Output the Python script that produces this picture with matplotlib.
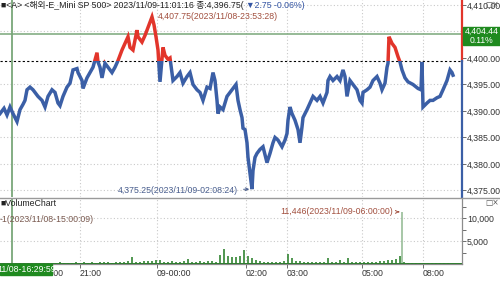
import numpy as np
import matplotlib
matplotlib.use('Agg')
import matplotlib.pyplot as plt
from matplotlib.patches import Rectangle
from matplotlib.lines import Line2D

plt.rcParams['font.family'] = ['Liberation Sans', 'Noto Sans CJK KR', 'DejaVu Sans']

# bar index (chart position) and price
bar_x = [0, 4, 7, 10, 13, 17, 20, 23, 25, 27,
         30, 33, 35, 38, 42, 45, 48, 52, 55, 58,
         60, 63, 67, 70, 73, 77, 78, 82, 83, 87,
         90, 93, 97, 98, 100, 102, 105, 108, 112, 115,
         118, 122, 125, 128, 130, 133, 137, 138, 142, 145,
         148, 152, 154, 156, 158, 160, 163, 165, 168, 170,
         173, 177, 180, 183, 187, 190, 193, 197, 200, 203,
         207, 210, 213, 215, 217, 218, 220, 223, 227, 230,
         233, 236, 238, 240, 242, 243, 245, 247, 248, 250,
         252, 253, 255, 257, 260, 263, 267, 270, 273, 275,
         278, 282, 285, 287, 288, 290, 292, 295, 298, 300,
         302, 303, 307, 310, 313, 317, 320, 323, 327, 328,
         330, 333, 337, 340, 343, 345, 347, 350, 353, 357,
         360, 362, 363, 367, 370, 373, 377, 380, 382, 385,
         387, 388, 389, 392, 395, 398, 400, 402, 405, 408,
         413, 418, 421, 422, 423, 427, 430, 433, 437, 440,
         443, 447, 450, 452, 453]
price = [4389.50, 4390.50, 4389.25, 4390.75, 4389.50, 4388.00, 4390.25, 4391.25, 4392.00, 4394.00,
         4394.50, 4394.00, 4393.50, 4392.75, 4392.00, 4390.75, 4392.75, 4394.00, 4393.50, 4391.50,
         4391.00, 4392.75, 4394.50, 4395.25, 4397.75, 4398.00, 4397.25, 4395.75, 4394.25, 4396.25,
         4397.25, 4398.25, 4401.00, 4399.25, 4398.25, 4396.25, 4399.00, 4398.25, 4397.25, 4398.25,
         4399.50, 4401.50, 4402.75, 4404.00, 4402.00, 4401.50, 4405.25, 4404.00, 4403.00, 4404.25,
         4405.75, 4407.75, 4406.25, 4404.00, 4401.50, 4395.50, 4402.00, 4400.50, 4399.75, 4400.00,
         4395.75, 4396.50, 4397.25, 4395.25, 4396.50, 4397.25, 4395.00, 4394.00, 4393.50, 4392.00,
         4394.50, 4394.25, 4397.25, 4395.75, 4392.00, 4389.50, 4390.75, 4390.25, 4392.75, 4393.50,
         4394.25, 4395.00, 4392.00, 4390.25, 4388.75, 4386.75, 4386.50, 4384.00, 4381.25, 4378.25,
         4375.25, 4378.75, 4381.25, 4382.00, 4382.75, 4383.25, 4380.25, 4382.00, 4384.00, 4385.00,
         4384.50, 4383.25, 4384.50, 4385.75, 4388.25, 4390.75, 4389.50, 4388.25, 4386.50, 4384.00,
         4387.00, 4388.75, 4390.25, 4391.50, 4392.75, 4392.00, 4392.75, 4391.50, 4393.50, 4395.75,
         4396.50, 4395.75, 4396.50, 4395.75, 4397.75, 4396.50, 4392.75, 4395.75, 4395.00, 4394.00,
         4392.00, 4391.50, 4393.50, 4394.00, 4394.50, 4395.75, 4396.50, 4395.25, 4394.00, 4395.25,
         4398.25, 4399.00, 4404.00, 4402.75, 4402.00, 4400.25, 4399.25, 4397.75, 4396.25, 4395.50,
         4395.00, 4394.25, 4394.00, 4399.25, 4390.75, 4391.50, 4392.00, 4392.00, 4392.50, 4392.75,
         4394.00, 4395.75, 4397.75, 4397.25, 4396.75]
prev_close = 4399.50
cursor_bar = 12
cursor_price = 4404.44

vol_x = list(range(0, 404, 4)) + [402] + list(range(404, 456, 4))
volume = [1, 150, 200, 120, 250, 180, 200, 300, 150, 220,
          260, 180, 300, 250, 200, 350, 280, 300, 250, 400,
          300, 350, 280, 450, 300, 380, 350, 420, 300, 500,
          450, 400, 600, 1600, 500, 450, 600, 700, 550, 900,
          800, 500, 450, 600, 400, 500, 600, 1100, 450, 500,
          700, 400, 550, 600, 450, 2000, 3200, 1800, 1600, 1500,
          1700, 3100, 1700, 1300, 900, 600, 400, 450, 500, 350,
          400, 600, 2300, 1300, 700, 700, 500, 450, 400, 500,
          350, 450, 1300, 500, 400, 900, 500, 1300, 400, 350,
          450, 500, 400, 450, 500, 600, 700, 800, 900, 1000,
          1800, 11446, 400, 250, 200, 150, 200, 150, 120, 180, 150,
          120, 150, 130, 100]

time_ticks = [41, 80, 157, 246, 287, 362, 423]
time_labels = ['15:00', '21:00', '09-00:00', '02:00', '03:00', '05:00', '08:00']
price_ticks = [4375, 4380, 4385, 4390, 4395, 4400, 4405, 4410]
vol_ticks = [5000, 10000]

BLUE = '#3b5fa6'
RED = '#e2352b'
BROWN = '#a2503f'
GRID = '#c9c9c9'
CROSS = '#79a779'
BOXG = '#1f8a1f'
FS = 6.3

W, H = 500, 282
fx = lambda px: px / W
fy = lambda py: 1 - py / H

fig = plt.figure(figsize=(5, 2.82), dpi=100)
ax = fig.add_axes([0, fy(197), fx(462), 197 / H])
axv = fig.add_axes([0, fy(264), fx(462), (264 - 198) / H])

# price panel
ax.set_xlim(0, 462)
ax.set_ylim(4373.77, 4410.94)
for t in time_ticks[1:]:
    ax.axvline(t, color=GRID, lw=0.8, ls=(0, (1, 2)))
for p in price_ticks:
    if p != 4400:
        ax.axhline(p, color=GRID, lw=0.8, ls=(0, (1, 2)))
ax.axhline(prev_close, color='black', lw=0.8, ls=(0, (2, 2)))
ax.axhline(cursor_price, color=CROSS, lw=1.1)
ax.axvline(cursor_bar, color=CROSS, lw=1.3)

low_line, = ax.plot(bar_x, price, color=BLUE, lw=2.5, solid_joinstyle='miter')
high_line, = ax.plot(bar_x, price, color=RED, lw=2.5, solid_joinstyle='miter')
low_line.set_clip_path(Rectangle((0, 4300), 462, prev_close - 4300, transform=ax.transData))
high_line.set_clip_path(Rectangle((0, prev_close), 462, 100, transform=ax.transData))

for s in ax.spines.values():
    s.set_visible(False)
ytr = ax.get_yaxis_transform()
ax.plot([1, 1], [prev_close, 4410.94], transform=ytr, color=RED, lw=1.6, clip_on=False)
ax.plot([1, 1], [4373.77, prev_close], transform=ytr, color=BLUE, lw=1.6, clip_on=False)
ax.yaxis.tick_right()
ax.set_yticks(price_ticks)
# the 4,405 label sits under the cursor price box
ax.set_yticklabels(['' if p == 4405 else f'{p:,.2f}' for p in price_ticks])
ax.tick_params(axis='y', direction='out', length=3, width=0.6, color='#555',
               labelcolor='#333', labelsize=FS, pad=0.5)
ax.set_xticks([])

i_hi = int(np.argmax(price))
i_lo = int(np.argmin(price))
ax.annotate(f'{price[i_hi]:,.2f}(2023/11/08-23:53:28)', xy=(bar_x[i_hi], price[i_hi]),
            xytext=(6, 0), textcoords='offset pixels', ha='left', va='center',
            fontsize=FS, color=BROWN, arrowprops=dict(arrowstyle='-', color=BROWN, lw=0.7))
ax.annotate(f'{price[i_lo]:,.2f}(2023/11/09-02:08:24)', xy=(bar_x[i_lo], price[i_lo]),
            xytext=(-14, -1), textcoords='offset pixels', ha='right', va='center',
            fontsize=FS, color='#4a5f8f',
            arrowprops=dict(arrowstyle='->', color='#4a5f8f', lw=0.7, mutation_scale=5))

# volume panel
axv.set_xlim(0, 462)
axv.set_ylim(0, 14500)
for t in time_ticks[1:]:
    axv.axvline(t, color=GRID, lw=0.8, ls=(0, (1, 2)))
for v in vol_ticks:
    axv.axhline(v, color=GRID, lw=0.8, ls=(0, (1, 2)))
axv.axvline(cursor_bar, color=CROSS, lw=1.3)
vmax = max(volume)
vcol = ['#8fb88f' if v == vmax else '#217a21' for v in volume]
axv.vlines(vol_x, 0, volume, colors=vcol, lw=1.1)
axv.axhline(0, color='#217a21', lw=1.4)

for k in ['top', 'left']:
    axv.spines[k].set_visible(False)
for k in ['right', 'bottom']:
    axv.spines[k].set_color('#8c8c8c')
    axv.spines[k].set_linewidth(0.9)
axv.yaxis.tick_right()
axv.set_yticks([2500, 5000, 7500, 10000, 12500])
axv.set_yticklabels(['', '5,000', '', '10,000', ''])
axv.tick_params(axis='y', direction='out', length=3, width=0.6, color='#555',
                labelcolor='#333', labelsize=FS, pad=0.5)
axv.set_xticks(time_ticks)
axv.set_xticklabels(time_labels)
for lab in axv.get_xticklabels():
    lab.set_ha('left')
axv.tick_params(axis='x', direction='out', length=3, width=0.6, color='#555',
                labelcolor='#333', labelsize=FS, pad=0.5)

i_vmax = volume.index(vmax)
axv.annotate(f'{vmax:,}(2023/11/09-06:00:00)', xy=(vol_x[i_vmax], vmax),
             xytext=(-9, 0), textcoords='offset pixels', ha='right', va='center',
             fontsize=FS, color=BROWN,
             arrowprops=dict(arrowstyle='->', color=BROWN, lw=0.7, mutation_scale=5))
axv.text(0, 1 - 22 / 66, f'-{min(volume)}(2023/11/08-15:00:09)', transform=axv.transAxes,
         ha='left', va='center', fontsize=FS, color='#7a5a50')
axv.text(0, 1 - 5 / 66, '■VolumeChart', transform=axv.transAxes,
         ha='left', va='center', fontsize=FS, color='#222')

# frame pieces
fig.add_artist(Line2D([0, 1], [fy(198), fy(198)], color='#9a9a9a', lw=1))
fig.patches.append(Rectangle((fx(463), fy(45)), fx(37), 18 / H, transform=fig.transFigure,
                             color=BOXG, zorder=5))
fig.text(fx(481.5), fy(36), f'{cursor_price:,.2f}\n0.11%', ha='center', va='center',
         fontsize=6.2, color='white', linespacing=0.95, zorder=6)
fig.patches.append(Rectangle((0, fy(275)), fx(52), 11 / H, transform=fig.transFigure,
                             color=BOXG, zorder=5))
fig.text(fx(-3), fy(269.5), '11/08-16:29:59', ha='left', va='center', fontsize=FS,
         color='white', zorder=6)
for yy in (4, 203):
    fig.text(fx(499), fy(yy), '□×', ha='right', va='center', fontsize=5.5,
             color='#555', family=['DejaVu Sans'], zorder=6)

t1 = fig.text(fx(1), fy(5.5), '■<A> <해외-E_Mini SP 500> 2023/11/09-11:01:16 종:4,396.75( ',
              ha='left', va='center', fontsize=FS, color='#222')
fig.add_artist(plt.Annotation('▼2.75 -0.06%)', xy=(1, 0.5), xycoords=t1, ha='left',
                              va='center', fontsize=FS, color='#3455a4',
                              annotation_clip=False))

fig.savefig('out.png', dpi=100)
